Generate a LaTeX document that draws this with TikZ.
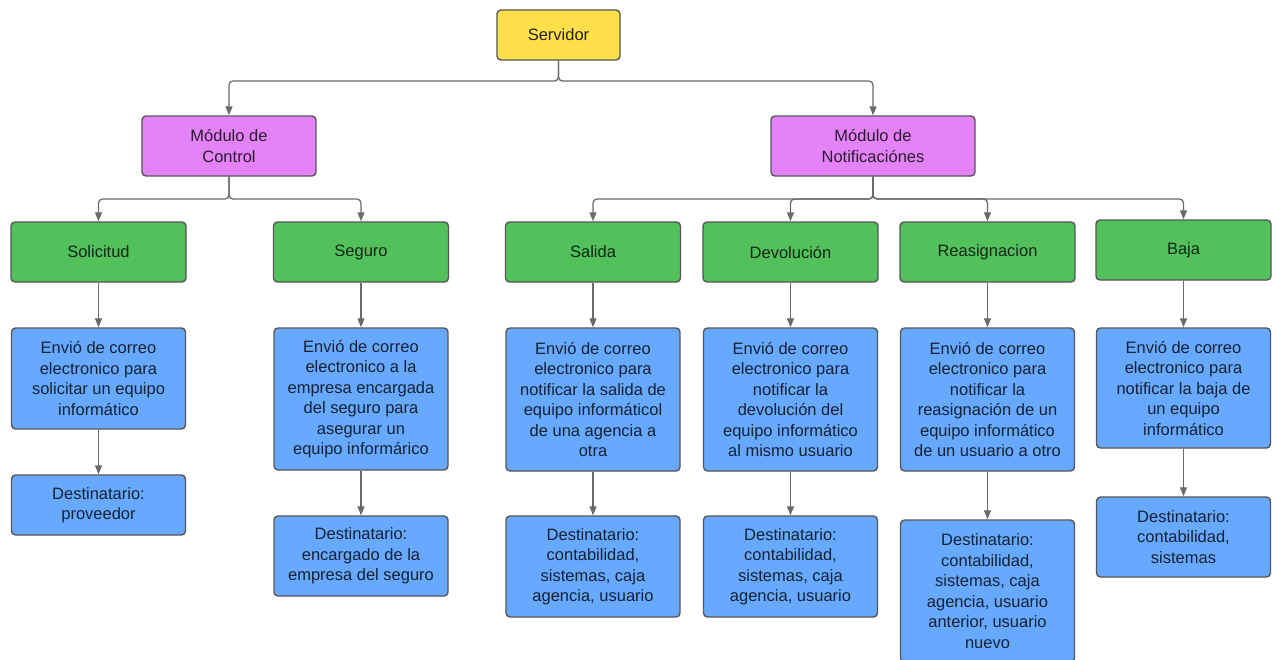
\documentclass[tikz,border=0pt]{standalone}
\usepackage{fontspec}
\setmainfont{Liberation Sans}
\usetikzlibrary{arrows.meta}

\definecolor{edgecol}{HTML}{565656}
\definecolor{linkcol}{HTML}{6A6A6A}
\definecolor{yellowfill}{HTML}{FFE04A}
\definecolor{purplefill}{HTML}{E383F7}
\definecolor{greenfill}{HTML}{52C15C}
\definecolor{bluefill}{HTML}{66A9FF}

\tikzset{
  box/.style={draw=edgecol, line width=1.4pt, rounded corners=4pt, align=center,
    inner sep=0pt, font=\fontsize{16.5}{20.5}\selectfont},
  rootbox/.style={box, fill=yellowfill, text=black!85!yellowfill,
    minimum width=123pt, minimum height=50pt},
  modbox/.style={box, fill=purplefill, text=black!80!purplefill, minimum height=60pt},
  catbox/.style={box, fill=greenfill, text=black!80!greenfill,
    minimum width=175pt, minimum height=60pt},
  infobox/.style={box, fill=bluefill, text=black!80!bluefill, minimum width=174pt},
  link/.style={draw=linkcol, line width=1.3pt, rounded corners=4pt,
    -{Triangle[width=7pt,length=9pt]}},
}

\begin{document}
\begin{tikzpicture}[x=1pt,y=-1pt]
\useasboundingbox[fill=white] (0,0) rectangle (1276,659);

% root and modules
\node[rootbox] (srv) at (558.5,35) {Servidor};
\node[modbox, minimum width=174pt] (ctrl) at (229,146) {Módulo de\\Control};
\node[modbox, minimum width=204pt] (notif) at (873,146) {Módulo de\\Notificaciónes};

% categories
\node[catbox] (sol)  at (98.5,252)  {Solicitud};
\node[catbox] (seg)  at (361,252)   {Seguro};
\node[catbox] (sal)  at (593,252)   {Salida};
\node[catbox] (dev)  at (790.5,252) {Devolución};
\node[catbox] (rea)  at (987.5,252) {Reasignacion};
\node[catbox] (baja) at (1183.5,250) {Baja};

% mail descriptions
\node[infobox, minimum height=101pt] (solm) at (98.5,378.5)
  {Envió de correo\\electronico para\\solicitar un equipo\\informático};
\node[infobox, minimum height=142pt] (segm) at (361,399)
  {Envió de correo\\electronico a la\\empresa encargada\\del seguro para\\asegurar un\\equipo informárico};
\node[infobox, minimum height=143pt] (salm) at (593,399.5)
  {Envió de correo\\electronico para\\notificar la salida de\\equipo informáticol\\de una agencia a\\otra};
\node[infobox, minimum height=143pt] (devm) at (790.5,399.5)
  {Envió de correo\\electronico para\\notificar la\\devolución del\\equipo informático\\al mismo usuario};
\node[infobox, minimum height=143pt] (ream) at (987.5,399.5)
  {Envió de correo\\electronico para\\notificar la\\reasignación de un\\equipo informático\\de un usuario a otro};
\node[infobox, minimum height=120pt] (bajam) at (1183.5,388)
  {Envió de correo\\electronico para\\notificar la baja de\\un equipo\\informático};

% recipients
\node[infobox, minimum height=60pt] (sold) at (98.5,505)
  {Destinatario:\\proveedor};
\node[infobox, minimum height=80pt] (segd) at (361,556)
  {Destinatario:\\encargado de la\\empresa del seguro};
\node[infobox, minimum height=101pt] (sald) at (593,566.5)
  {Destinatario:\\contabilidad,\\sistemas, caja\\agencia, usuario};
\node[infobox, minimum height=101pt] (devd) at (790.5,566.5)
  {Destinatario:\\contabilidad,\\sistemas, caja\\agencia, usuario};
\node[infobox, minimum height=142pt] (read) at (987.5,591)
  {Destinatario:\\contabilidad,\\sistemas, caja\\agencia, usuario\\anterior, usuario\\nuevo};
\node[infobox, minimum height=80pt] (bajad) at (1183.5,537)
  {Destinatario:\\contabilidad,\\sistemas};

% branch points
\coordinate (jsrv) at (558.5,81);
\coordinate (jctrl) at (229,199);
\coordinate (jnotif) at (873,199);

% connectors
\draw[link] (srv.south) -- (jsrv) -| (ctrl.north);
\draw[link] (srv.south) -- (jsrv) -| (notif.north);
\draw[link] (ctrl.south) -- (jctrl) -| (sol.north);
\draw[link] (ctrl.south) -- (jctrl) -| (seg.north);
\draw[link] (notif.south) -- (jnotif) -| (sal.north);
\draw[link] (notif.south) -- (jnotif) -| (dev.north);
\draw[link] (notif.south) -- (jnotif) -| (rea.north);
\draw[link] (notif.south) -- (jnotif) -| (baja.north);

\foreach \a/\b in {sol/solm, seg/segm, sal/salm, dev/devm, rea/ream, baja/bajam,
                   solm/sold, segm/segd, salm/sald, devm/devd, ream/read, bajam/bajad}
  \draw[link] (\a.south) -- (\b.north);
\end{tikzpicture}
\end{document}
